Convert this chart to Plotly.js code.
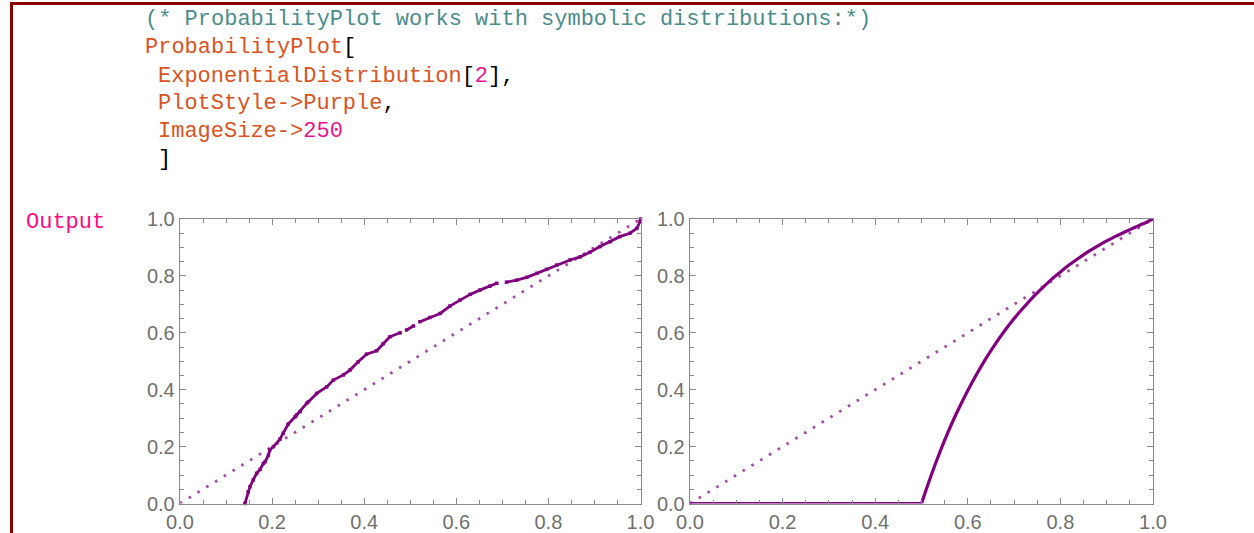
<!DOCTYPE html>
<html>
<head>
<meta charset="utf-8">
<script src="https://cdn.plot.ly/plotly-3.0.1.min.js"></script>
<style>
  html, body { margin: 0; padding: 0; background: #ffffff; }
  #chart { width: 1254px; height: 533px; }
</style>
</head>
<body>
<div id="chart"></div>
<script>
// ---- Data ----
// Left panel: empirical probability points (null = visible gap between points)
const p1x = [0.141, 0.148, 0.152, 0.159, 0.1665, 0.174, 0.181, 0.185, 0.192, 0.195, 0.203, 0.217, 0.224, 0.235, 0.25, 0.253, 0.261, 0.275, 0.279, 0.297, 0.3185, 0.333, 0.355, 0.369, 0.387, 0.405, 0.427, 0.441, 0.456, 0.478, null, 0.492, 0.507, null, 0.521, 0.543, 0.565, 0.586, 0.608, 0.630, 0.651, 0.673, 0.688, null, 0.709, 0.731, 0.753, 0.775, 0.796, 0.818, 0.847, 0.869, 0.890, 0.912, 0.934, 0.955, 0.977, 0.992, 0.999, 1.0];
const p1y = [0.0, 0.041, 0.059, 0.083, 0.106, 0.12, 0.141, 0.147, 0.17, 0.188, 0.20, 0.226, 0.247, 0.279, 0.305, 0.311, 0.323, 0.352, 0.358, 0.387, 0.41, 0.434, 0.452, 0.469, 0.498, 0.525, 0.537, 0.561, 0.586, 0.600, null, 0.610, 0.624, null, 0.639, 0.654, 0.668, 0.694, 0.715, 0.735, 0.750, 0.764, 0.774, null, 0.778, 0.785, 0.795, 0.809, 0.823, 0.838, 0.856, 0.867, 0.883, 0.903, 0.920, 0.938, 0.950, 0.967, 0.99, 1.0];
// Right panel: flat part along zero, then the rising curve for ExponentialDistribution[2]
const p2flatX = [0.0, 0.5];
const p2flatY = [0.0, 0.0];
const p2x = [0.5, 0.51, 0.52, 0.54, 0.56, 0.58, 0.60, 0.62, 0.64, 0.66, 0.68, 0.70, 0.72, 0.74, 0.76, 0.78, 0.80, 0.82, 0.84, 0.86, 0.88, 0.90, 0.92, 0.94, 0.96, 0.98, 1.0];
const p2y = [0.0, 0.048, 0.095, 0.182, 0.261, 0.332, 0.397, 0.457, 0.512, 0.562, 0.608, 0.650, 0.688, 0.724, 0.756, 0.787, 0.814, 0.840, 0.863, 0.885, 0.905, 0.923, 0.940, 0.955, 0.970, 0.984, 1.0];
// Reference diagonal
const refx = [0, 1];
const refy = [0, 1];
// Tick labels
const tickVals = [0, 0.2, 0.4, 0.6, 0.8, 1.0];
const tickText = ["0.0", "0.2", "0.4", "0.6", "0.8", "1.0"];
// Code lines (notebook input)
const codeComment = "(* ProbabilityPlot works with symbolic distributions:*)";
const codeFunc = "ProbabilityPlot";
const codeDist = "ExponentialDistribution";
const codeArg = "2";
const codeOpt1 = "PlotStyle-&gt;Purple";
const codeOpt2 = "ImageSize-&gt;";
const codeOpt2Val = "250";
const outLabel = "Output";

// ---- Styling ----
const W = 1254, H = 533;
const PURPLE = "#800080";
const FRAME = "#8a8a8a";
const LABEL = "#6f6f6f";
const C_COMMENT = "#4b8c8c";
const C_SYM = "#d9531e";
const C_NUM = "#ec148c";
const C_BORDER = "#8b0000";

function px(x) { return x / W; }
function py(y) { return 1 - y / H; }

function axisDef(domain, anchor) {
  return {
    domain: domain, anchor: anchor, range: [0, 1], autorange: false,
    tickmode: "array", tickvals: tickVals, ticktext: tickText,
    ticks: "inside", ticklen: 6, tickwidth: 1, tickcolor: FRAME,
    minor: { dtick: 0.05, tick0: 0, ticks: "inside", ticklen: 4, tickwidth: 1, tickcolor: FRAME, showgrid: false },
    showline: true, linecolor: FRAME, linewidth: 1.3, mirror: "allticks",
    showgrid: false, zeroline: false,
    tickfont: { family: "Liberation Sans, Arial, sans-serif", size: 20, color: LABEL },
    fixedrange: true
  };
}

const yDom = [py(503.5), py(219)];

const traces = [
  { x: refx, y: refy, xaxis: "x", yaxis: "y", mode: "lines",
    line: { color: "rgba(128,0,128,0.7)", width: 2.8, dash: "2.6px,7.7px" }, hoverinfo: "skip" },
  { x: p1x, y: p1y, xaxis: "x", yaxis: "y", mode: "lines+markers", connectgaps: false,
    line: { color: PURPLE, width: 2.8 },
    marker: { symbol: "square", size: 3.5, color: PURPLE }, cliponaxis: false },
  { x: refx, y: refy, xaxis: "x2", yaxis: "y2", mode: "lines",
    line: { color: "rgba(128,0,128,0.7)", width: 2.8, dash: "2.6px,7.7px" }, hoverinfo: "skip" },
  { x: p2flatX, y: p2flatY, xaxis: "x2", yaxis: "y2", mode: "lines",
    line: { color: PURPLE, width: 3.2 } },
  { x: p2x, y: p2y, xaxis: "x2", yaxis: "y2", mode: "lines",
    line: { color: PURPLE, width: 3.2, shape: "spline", smoothing: 0.6 } }
];

function sp(c, t) { return '<span style="color:' + c + '">' + t + '</span>'; }
const codeFont = { family: "Liberation Mono, DejaVu Sans Mono, monospace", size: 22, color: "#000000" };
function codeAnn(xp, yp, text) {
  return { xref: "paper", yref: "paper", x: px(xp), y: py(yp), xanchor: "left", yanchor: "middle",
           text: text, showarrow: false, font: codeFont, align: "left" };
}

const annotations = [
  codeAnn(143, 20, sp(C_COMMENT, codeComment)),
  codeAnn(143, 48, sp(C_SYM, codeFunc) + sp("#000", "[")),
  codeAnn(156, 76, sp(C_SYM, codeDist) + sp("#000", "[") + sp(C_NUM, codeArg) + sp("#000", "],")),
  codeAnn(156, 104, sp(C_SYM, codeOpt1) + sp("#000", ",")),
  codeAnn(156, 131, sp(C_SYM, codeOpt2) + sp(C_NUM, codeOpt2Val)),
  codeAnn(156, 159, sp("#000", "]")),
  codeAnn(24, 222, sp("#ff0a84", outLabel))
];

const shapes = [
  { type: "line", xref: "paper", yref: "paper", x0: px(10), x1: 1, y0: py(3.5), y1: py(3.5),
    line: { color: C_BORDER, width: 3 } },
  { type: "line", xref: "paper", yref: "paper", x0: px(11.5), x1: px(11.5), y0: py(2), y1: 0,
    line: { color: C_BORDER, width: 3 } }
];

const layout = {
  width: W, height: H,
  margin: { l: 0, r: 0, t: 0, b: 0, pad: 0 },
  paper_bgcolor: "#ffffff", plot_bgcolor: "#ffffff",
  showlegend: false,
  xaxis: axisDef([px(180), px(640.5)], "y"),
  yaxis: axisDef(yDom, "x"),
  xaxis2: axisDef([px(690), px(1153)], "y2"),
  yaxis2: axisDef(yDom, "x2"),
  annotations: annotations,
  shapes: shapes
};

Plotly.newPlot("chart", traces, layout, { staticPlot: true, displayModeBar: false });
</script>
</body>
</html>
